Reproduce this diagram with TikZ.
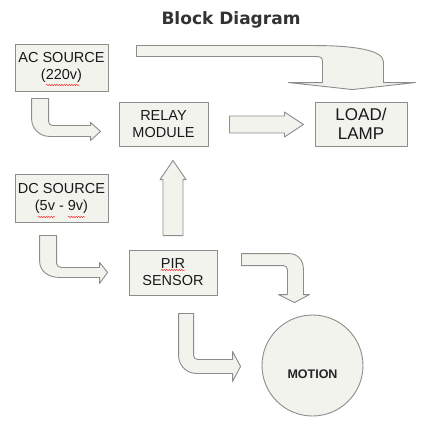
\documentclass[tikz,border=0pt]{standalone}
\usepackage{fontspec}
\setmainfont{Liberation Sans}
\newfontfamily\headfont{DejaVu Sans}
\usetikzlibrary{positioning, calc, decorations.pathmorphing}
\usepackage{xcolor}
\definecolor{boxfill}{RGB}{243,243,238}
\definecolor{boxline}{RGB}{140,140,140}

\begin{document}
\begin{tikzpicture}[x=1pt,y=-1pt,line join=round]
    \tikzstyle{block}=[rectangle, draw=boxline, fill=boxfill, line width=0.9pt, align=center, inner sep=0pt, text=black!90, font=\fontsize{14.5}{17}\selectfont]
    \tikzstyle{big block}=[block, font=\fontsize{17}{19}\selectfont]
    \tikzstyle{blockarrow}=[draw=boxline, fill=boxfill, line width=0.9pt]
    \tikzstyle{squiggle}=[red!80, line width=0.5pt, decorate, decoration={snake, amplitude=0.7pt, segment length=2.5pt}]

    \useasboundingbox (0,0) rectangle (431,428);

    \node[font=\headfont\bfseries\fontsize{17}{20}\selectfont, text=black!80, anchor=base] (title) at (231,25) {Block Diagram};

    % Draw the blocks
    \node[block, minimum width=93pt, minimum height=47pt] (ac) at (61.5,67.5) {AC SOURCE\\(220v)};
    \node[block, minimum width=89pt, minimum height=44pt] (relay) at (163.5,124) {RELAY\\MODULE};
    \node[big block, minimum width=92pt, minimum height=44pt] (load) at (361,124) {LOAD/\\LAMP};
    \node[block, minimum width=93pt, minimum height=48pt] (dc) at (61.5,198) {DC SOURCE\\(5v - 9v)};
    \node[block, minimum width=88pt, minimum height=45pt] (pir) at (173,272.5) {PIR\\SENSOR};
    \node[circle, draw=boxline, fill=boxfill, line width=0.9pt, minimum size=101pt, inner sep=0pt, text height=25pt, text depth=0pt,
          font=\bfseries\fontsize{12.5}{14}\selectfont, text=black!85] (motion) at (312.5,365.5) {MOTION};

    % spell check marks
    \foreach \xa/\xb/\y in {46/79/85, 38/55/217, 68/85/217, 161/185/270}
        \draw[squiggle] (\xa,\y) -- (\xb,\y);

    % AC source feeds the load
    \draw[blockarrow] ($(ac.north east)+(28,2)$) -- ++(179,0)
        .. controls +(35,0) and +(0,-12) .. ++(68,16) -- ++(0,21) -- ++(32,0) -- ++(-63,7)
        -- ++(-64,-7) -- ++(34,0) -- ++(0,-21)
        .. controls +(0,-4) and +(4,0) .. ++(-6,-5) -- ++(-180,0) -- cycle;

    % AC source to relay
    \draw[blockarrow] ($(ac.south west)+(17,7)$) -- ++(17,0) -- ++(0,23)
        .. controls +(0,2.5) and +(-2,0) .. ++(4,4) -- ++(38,0) -- ++(0,-3) -- ++(10,9)
        -- ++(-10,9) -- ++(0,-4) -- ++(-41,0)
        .. controls +(-10,0) and +(0,10) .. ++(-18,-18) -- cycle;

    % relay to load
    \draw[blockarrow] ($(relay.east)+(21,-8)$) -- ++(55,0) -- ++(0,-4) -- ++(19,12.5)
        -- ++(-19,12.5) -- ++(0,-4) -- ++(-55,0) -- cycle;

    % DC source to PIR
    \draw[blockarrow] ($(dc.south west)+(25,13)$) -- ++(17,0) -- ++(0,28)
        .. controls +(0,2.5) and +(-2.5,0) .. ++(5,4) -- ++(38,0) -- ++(0,-5) -- ++(8,10)
        -- ++(-8,11) -- ++(0,-6) -- ++(-40,0)
        .. controls +(-11,0) and +(0,11) .. ++(-20,-17) -- cycle;

    % PIR to relay
    \draw[blockarrow] ($(pir.north)+(-10,-14)$) -- ++(0,-56) -- ++(-3,0) -- ++(13,-19)
        -- ++(13,19) -- ++(-3,0) -- ++(0,56) -- cycle;

    % PIR and motion
    \draw[blockarrow] ($(pir.north east)+(24,4)$) -- ++(47,0)
        .. controls +(9,0) and +(0,-10) .. ++(15,16) -- ++(0,25) -- ++(6,0) -- ++(-15,8)
        -- ++(-16,-8) -- ++(9,0) -- ++(0,-25)
        .. controls +(0,-2) and +(2,0) .. ++(-4,-4) -- ++(-42,0) -- cycle;
    \draw[blockarrow] ($(pir.south west)+(50,18)$) -- ++(15,0) -- ++(0,42)
        .. controls +(0,2.5) and +(-2,0) .. ++(4,4) -- ++(35,0) -- ++(0,-8) -- ++(8,15)
        -- ++(-8,15) -- ++(0,-8) -- ++(-36,0)
        .. controls +(-10,0) and +(0,10) .. ++(-18,-18) -- cycle;
\end{tikzpicture}
\end{document}
